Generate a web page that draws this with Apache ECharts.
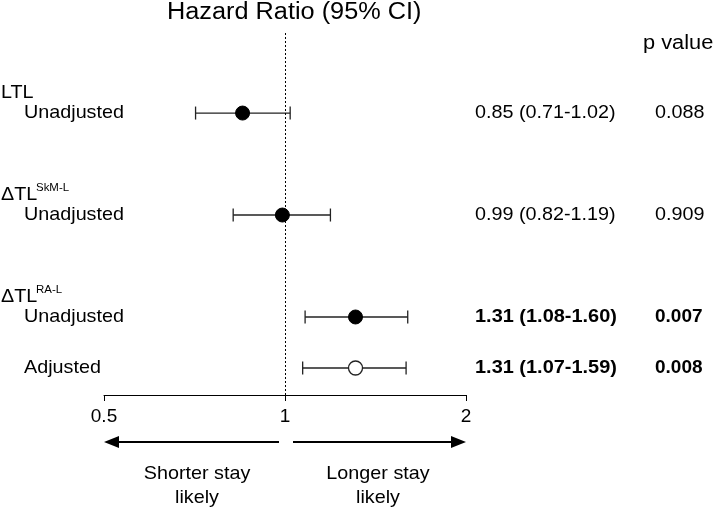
<!DOCTYPE html>
<html><head><meta charset="utf-8">
<script src="https://cdn.jsdelivr.net/npm/echarts@6/dist/echarts.min.js"></script>
<style>html,body{margin:0;padding:0;background:#fff}#c{width:714px;height:509px}</style>
</head><body><div id="c"></div>
<script>
const groupNames = ['LTL', 'ΔTL', 'ΔTL'];
const groupSup = ['', 'SkM-L', 'RA-L'];
const groupPos = [0.6, 2.6, 4.6];
const rowLabels = ['Unadjusted', 'Unadjusted', 'Unadjusted', 'Adjusted'];
const rowPos = [1, 3, 5, 6];
const hr = [0.85, 0.99, 1.31, 1.31];
const ciLow = [0.71, 0.82, 1.08, 1.07];
const ciHigh = [1.02, 1.19, 1.60, 1.59];
const ciText = ['0.85 (0.71-1.02)', '0.99 (0.82-1.19)', '1.31 (1.08-1.60)', '1.31 (1.07-1.59)'];
const pText = ['0.088', '0.909', '0.007', '0.008'];
const boldRow = [false, false, true, true];
const filledMarker = [true, true, true, false];
const xTicks = [0.5, 1, 2];

const FONT = '"Liberation Sans", Arial, sans-serif';
const SX = 1.04;
const chart = echarts.init(document.getElementById('c'));

const option = {
  animation: false,
  backgroundColor: '#fff',
  grid: { left: 104, right: 248, top: 33, bottom: 114 },
  xAxis: {
    type: 'log', logBase: 2, min: xTicks[0], max: xTicks[2], splitNumber: 2,
    axisLine: { onZero: false, lineStyle: { color: '#000', width: 1 } },
    axisTick: { length: 6, lineStyle: { color: '#000' } },
    axisLabel: { fontFamily: FONT, fontSize: 19, color: '#000', margin: 12,
      formatter: v => String(+v.toFixed(2)) },
    splitLine: { show: false }
  },
  yAxis: { type: 'value', inverse: true, min: -0.57, max: 6.53, show: false },
  series: [
    {
      type: 'custom',
      data: rowPos.map((y, i) => [ciLow[i], ciHigh[i], y]),
      encode: { x: [0, 1], y: 2 },
      z: 2,
      renderItem: function (params, api) {
        const y = api.value(2);
        const a = api.coord([api.value(0), y]);
        const b = api.coord([api.value(1), y]);
        const st = { stroke: '#222', lineWidth: 1.3 };
        return { type: 'group', children: [
          { type: 'line', shape: { x1: a[0], y1: a[1], x2: b[0], y2: b[1] }, style: st },
          { type: 'line', shape: { x1: a[0], y1: a[1] - 6.5, x2: a[0], y2: a[1] + 6.5 }, style: st },
          { type: 'line', shape: { x1: b[0], y1: b[1] - 6.5, x2: b[0], y2: b[1] + 6.5 }, style: st }
        ]};
      }
    },
    {
      type: 'scatter',
      z: 3,
      symbol: 'circle',
      symbolSize: 14,
      data: rowPos.map((y, i) => ({
        value: [hr[i], y],
        itemStyle: filledMarker[i]
          ? { color: '#000', borderColor: '#000', borderWidth: 1, opacity: 1 }
          : { color: '#fff', borderColor: '#222', borderWidth: 1.3, opacity: 1 }
      })),
      markLine: {
        silent: true, symbol: 'none', label: { show: false },
        lineStyle: { color: '#000', type: [2, 2], width: 1 },
        data: [{ xAxis: 1 }]
      }
    }
  ]
};
chart.setOption(option);

const yPix = v => chart.convertToPixel({ yAxisIndex: 0 }, v);
const xPix = v => chart.convertToPixel({ xAxisIndex: 0 }, v);
const txt = (x, y, s, opt, sx) => ({
  type: 'text', x: x, y: y, scaleX: sx || SX,
  style: Object.assign({ text: s, fontFamily: FONT, fontSize: 19, fill: '#000',
    verticalAlign: 'middle', align: 'left' }, opt || {})
});
const els = [];
els.push(txt(167, 13, 'Hazard Ratio (95% CI)', { fontSize: 23 }, 1.1));
groupNames.forEach((g, i) => {
  const y = yPix(groupPos[i]);
  els.push(txt(1, y, g));
  if (groupSup[i]) els.push(txt(36, y - 7, groupSup[i], { fontSize: 11 }));
});
rowLabels.forEach((r, i) => {
  const y = yPix(rowPos[i]);
  els.push(txt(24, y, r));
  els.push(txt(475, y, ciText[i], { fontWeight: boldRow[i] ? 'bold' : 'normal' }, boldRow[i] ? 1.05 : SX));
  els.push(txt(655, y, pText[i], { fontWeight: boldRow[i] ? 'bold' : 'normal' }, boldRow[i] ? 1.0 : SX));
});
els.push(txt(643, 43, 'p value', { fontSize: 20 }, 1.09));

// direction arrows
const ay = 442;
const x0 = xPix(xTicks[0]), x1 = xPix(xTicks[1]), x2 = xPix(xTicks[2]);
const ls = { stroke: '#000', lineWidth: 2 };
els.push({ type: 'line', shape: { x1: x1 - 6, y1: ay, x2: x0 + 12, y2: ay }, style: ls });
els.push({ type: 'polygon', shape: { points: [[x0, ay], [x0 + 15, ay - 6], [x0 + 15, ay + 6]] }, style: { fill: '#000' } });
els.push({ type: 'line', shape: { x1: x1 + 8, y1: ay, x2: x2 - 12, y2: ay }, style: ls });
els.push({ type: 'polygon', shape: { points: [[x2, ay], [x2 - 15, ay - 6], [x2 - 15, ay + 6]] }, style: { fill: '#000' } });
els.push(txt(197, 474, 'Shorter stay', { align: 'center' }));
els.push(txt(197, 498, 'likely', { align: 'center' }));
els.push(txt(378, 474, 'Longer stay', { align: 'center' }));
els.push(txt(378, 498, 'likely', { align: 'center' }));

chart.setOption({ graphic: { elements: els } });
</script>
</body></html>
